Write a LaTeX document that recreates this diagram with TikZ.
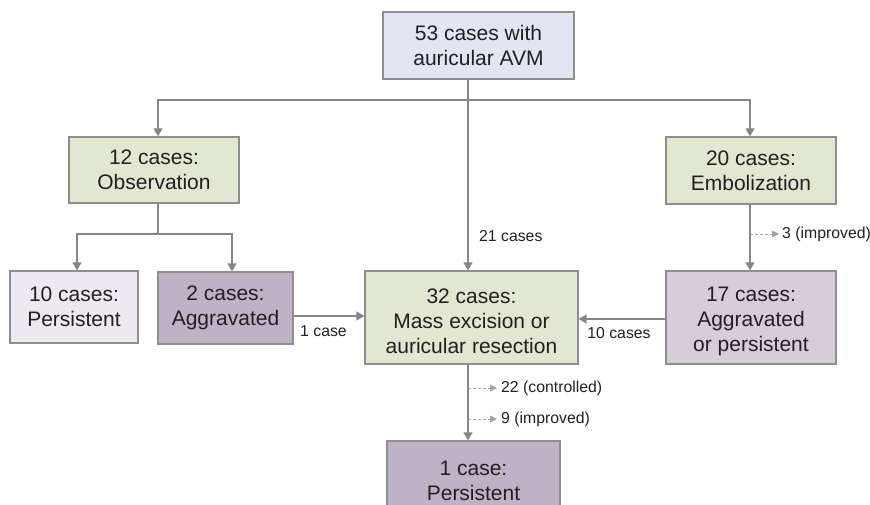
\documentclass[tikz,border=0pt]{standalone}
\usepackage{fontspec}
\setmainfont{Liberation Sans}
\usetikzlibrary{arrows.meta}
\definecolor{bordc}{HTML}{8E8E8E}
\definecolor{linec}{HTML}{85858A}
\definecolor{dashc}{HTML}{A3A3A3}
\definecolor{txtc}{HTML}{231F20}
\definecolor{blueb}{HTML}{E1E6F2}
\definecolor{greenb}{HTML}{E2E7D1}
\definecolor{lavb}{HTML}{EEE9F0}
\definecolor{midpb}{HTML}{D6CCDC}
\definecolor{darkpb}{HTML}{BFB2C7}
\newcommand{\mytopgap}{\rule{0pt}{22pt}}
\begin{document}
\begin{tikzpicture}[x=1pt,y=-1pt,
  box/.style={draw=bordc, line width=1.3pt, align=center, text=txtc, inner sep=0pt,
    font=\fontsize{21}{25}\selectfont},
  conn/.style={draw=linec, line width=1.4pt, -{Triangle[width=9pt,length=8pt]}},
  dasharrow/.style={draw=dashc, line width=0.9pt, dash pattern=on 3pt off 2pt,
    -{Triangle[width=7pt,length=7pt]}},
  lbl/.style={font=\fontsize{15.8}{18}\selectfont, text=txtc, inner sep=0pt}
]
\useasboundingbox (0,0) rectangle (870,505);
\clip (0,0) rectangle (870,505);

% boxes
\node[box, fill=blueb, minimum width=191pt, minimum height=67pt] (top) at (478.5,45.5) {53 cases with\\auricular AVM};
\node[box, fill=greenb, minimum width=170pt, minimum height=66pt] (obs) at (154,170) {12 cases:\\Observation};
\node[box, fill=greenb, minimum width=170pt, minimum height=67pt] (emb) at (751,170.5) {20 cases:\\Embolization};
\node[box, fill=lavb, minimum width=128pt, minimum height=72pt] (p10) at (74,307) {10 cases:\\Persistent};
\node[box, fill=darkpb, minimum width=135pt, minimum height=72pt] (agg2) at (225.5,308) {2 cases:\\Aggravated};
\node[box, fill=greenb, minimum width=213pt, minimum height=93pt] (mass) at (471.5,317.5) {\mytopgap 32 cases:\\Mass excision or\\auricular resection};
\node[box, fill=midpb, minimum width=170pt, minimum height=93pt] (agg17) at (751,317.5) {\mytopgap 17 cases:\\Aggravated\\or persistent};
\node[box, fill=darkpb, minimum width=173pt, minimum height=80pt] (p1) at (473.5,481) {1 case:\\Persistent};

% reference coordinates
\coordinate (cx) at (468,0);
\coordinate (hb) at (0,100);
\coordinate (ox) at (158,0);
\coordinate (ex) at (750,0);
\coordinate (ob) at (0,234);
\coordinate (lx) at (77,0);
\coordinate (rx) at (232,0);
\coordinate (ya) at (0,316);
\coordinate (yb) at (0,319);

% top level
\draw[conn] (top.south -| cx) -- (mass.north -| cx);
\draw[conn] (cx |- hb) -| (obs.north -| ox);
\draw[conn] (cx |- hb) -| (emb.north -| ex);
\node[lbl, anchor=west] (l21) at (479,236) {21 cases};

% observation branch
\draw[conn] (obs.south -| ox) -- (ox |- ob) -| (p10.north -| lx);
\draw[conn] (ox |- ob) -| (agg2.north -| rx);

% side connectors
\draw[conn] (agg2.east |- ya) -- (mass.west |- ya);
\node[lbl] (l1) at (323.5,331) {1 case};
\draw[conn] (agg17.west |- yb) -- (mass.east |- yb);
\node[lbl] (l10) at (619,333) {10 cases};

% embolization
\draw[conn] (emb.south -| ex) -- (agg17.north -| ex);
\node[lbl, anchor=west] (i3) at (782,234) {3 (improved)};
\draw[dasharrow, shorten >=3pt] (ex |- i3) -- (i3.west);

% mass excision
\draw[conn] (mass.south -| cx) -- (p1.north -| cx);
\node[lbl, anchor=west] (c22) at (501,388) {22 (controlled)};
\node[lbl, anchor=west] (i9) at (501,419) {9 (improved)};
\draw[dasharrow, shorten >=4pt] (cx |- c22) -- (c22.west);
\draw[dasharrow, shorten >=4pt] (cx |- i9) -- (i9.west);
\end{tikzpicture}
\end{document}
